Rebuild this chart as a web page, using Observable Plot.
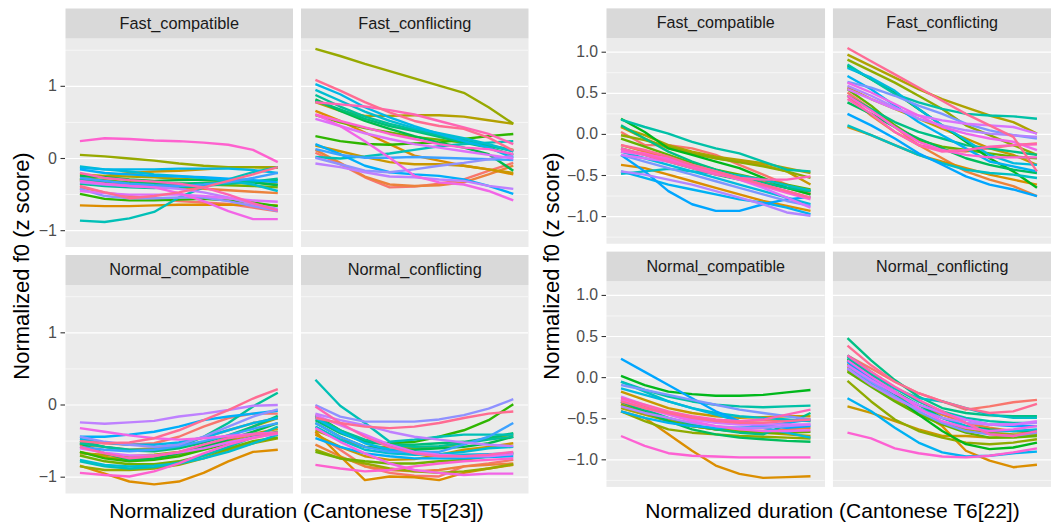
<!DOCTYPE html>
<html>
<head>
<meta charset="utf-8">
<script src="https://cdn.jsdelivr.net/npm/d3@7"></script>
<script src="https://cdn.jsdelivr.net/npm/@observablehq/plot@0.6"></script>
<style>
  html, body { margin: 0; padding: 0; background: #ffffff; }
  #wrap { position: relative; width: 1051px; height: 526px; overflow: hidden; background: #ffffff;
          font-family: "Liberation Sans", Arial, Helvetica, sans-serif; }
  .chart { position: absolute; top: 0; }
  .xtitle { position: absolute; font-size: 21px; line-height: 24px; text-align: center; color: #000; white-space: nowrap; }
  .ytitle { position: absolute; width: 300px; height: 24px; font-size: 22px; line-height: 24px; text-align: center;
            color: #000; white-space: nowrap; transform: rotate(-90deg); transform-origin: 50% 50%; }
</style>
</head>
<body>
<div id="wrap">
  <div id="left" class="chart" style="left:0px"></div>
  <div id="right" class="chart" style="left:530px"></div>
  <div class="xtitle" style="left:65px; top:499px; width:463px;">Normalized duration (Cantonese T5[23])</div>
  <div class="xtitle" style="left:607px; top:499px; width:451px;">Normalized duration (Cantonese T6[22])</div>
  <div class="ytitle" style="left:-128.5px; top:254px;">Normalized f0 (z score)</div>
  <div class="ytitle" style="left:401.5px; top:254px;">Normalized f0 (z score)</div>
</div>
<script>
// ---------- data ----------
const timePoints = [1, 2, 3, 4, 5, 6, 7, 8, 9];
const speeds = ["Fast", "Normal"];
const conditions = ["compatible", "conflicting"];

const t5TickValues = [-1, 0, 1];
const t5MinorValues = [-0.5, 0.5, 1.5];
const t6TickValues = [-1, -0.5, 0, 0.5, 1];
const t6MinorValues = [-1.25, -0.75, -0.25, 0.25, 0.75];

// Cantonese T5 (23 speakers), one row of f0 per speaker
const t5_Fast_compatible = [
  [-0.40,-0.47,-0.52,-0.56,-0.59,-0.61,-0.63,-0.68,-0.73],
  [-0.30,-0.33,-0.36,-0.38,-0.40,-0.42,-0.44,-0.46,-0.48],
  [-0.65,-0.66,-0.66,-0.65,-0.64,-0.64,-0.64,-0.64,-0.65],
  [-0.30,-0.24,-0.20,-0.18,-0.17,-0.15,-0.13,-0.12,-0.12],
  [-0.22,-0.24,-0.25,-0.26,-0.28,-0.30,-0.32,-0.33,-0.36],
  [0.05,0.03,0.00,-0.03,-0.07,-0.10,-0.12,-0.12,-0.13],
  [-0.27,-0.30,-0.33,-0.34,-0.35,-0.36,-0.37,-0.38,-0.40],
  [-0.49,-0.56,-0.58,-0.58,-0.57,-0.56,-0.58,-0.61,-0.66],
  [-0.24,-0.26,-0.29,-0.31,-0.30,-0.29,-0.30,-0.33,-0.37],
  [-0.30,-0.32,-0.34,-0.35,-0.35,-0.34,-0.33,-0.32,-0.30],
  [-0.35,-0.38,-0.40,-0.41,-0.40,-0.38,-0.35,-0.32,-0.28],
  [-0.86,-0.88,-0.83,-0.74,-0.54,-0.40,-0.29,-0.19,-0.12],
  [-0.11,-0.15,-0.18,-0.22,-0.24,-0.27,-0.31,-0.36,-0.45],
  [-0.13,-0.15,-0.15,-0.15,-0.14,-0.14,-0.14,-0.16,-0.20],
  [-0.15,-0.20,-0.22,-0.24,-0.25,-0.26,-0.28,-0.30,-0.33],
  [-0.27,-0.31,-0.35,-0.37,-0.38,-0.36,-0.33,-0.27,-0.20],
  [-0.42,-0.52,-0.55,-0.55,-0.54,-0.54,-0.59,-0.66,-0.73],
  [-0.33,-0.36,-0.38,-0.40,-0.42,-0.47,-0.54,-0.63,-0.70],
  [-0.45,-0.48,-0.50,-0.50,-0.50,-0.52,-0.55,-0.58,-0.60],
  [-0.31,-0.35,-0.38,-0.40,-0.48,-0.59,-0.73,-0.84,-0.84],
  [0.24,0.28,0.27,0.25,0.24,0.22,0.19,0.12,-0.05],
  [-0.20,-0.27,-0.30,-0.32,-0.35,-0.40,-0.50,-0.62,-0.72],
  [-0.38,-0.47,-0.55,-0.52,-0.47,-0.40,-0.31,-0.22,-0.12]
];
const t5_Fast_conflicting = [
  [0.08,-0.08,-0.26,-0.40,-0.39,-0.35,-0.29,-0.17,-0.06],
  [0.12,-0.06,-0.25,-0.36,-0.38,-0.37,-0.33,-0.22,-0.10],
  [0.66,0.52,0.36,0.20,0.04,-0.03,-0.10,-0.15,-0.22],
  [0.18,0.10,0.02,-0.05,-0.08,-0.08,-0.10,-0.15,-0.20],
  [0.78,0.66,0.59,0.59,0.60,0.60,0.58,0.53,0.48],
  [1.52,1.42,1.31,1.21,1.11,1.01,0.91,0.71,0.48],
  [0.60,0.50,0.42,0.36,0.30,0.26,0.22,0.18,0.12],
  [0.31,0.24,0.20,0.19,0.21,0.22,0.27,0.31,0.34],
  [0.82,0.66,0.52,0.41,0.31,0.22,0.15,0.06,-0.17],
  [0.80,0.68,0.55,0.45,0.38,0.30,0.22,0.15,0.05],
  [0.88,0.72,0.58,0.48,0.40,0.32,0.25,0.18,0.10],
  [0.02,0.00,0.03,0.07,0.12,0.17,0.20,0.22,0.24],
  [0.95,0.80,0.65,0.52,0.42,0.35,0.28,0.20,0.10],
  [1.03,0.89,0.71,0.57,0.45,0.34,0.24,0.15,0.01],
  [0.20,0.06,-0.10,-0.19,-0.22,-0.24,-0.29,-0.38,-0.49],
  [0.13,0.05,0.01,0.01,0.02,0.01,0.00,-0.01,-0.02],
  [0.01,-0.08,-0.17,-0.19,-0.15,-0.10,-0.06,-0.01,0.04],
  [-0.07,-0.12,-0.19,-0.25,-0.26,-0.29,-0.31,-0.38,-0.42],
  [0.55,0.45,0.35,0.27,0.20,0.15,0.10,0.05,0.00],
  [0.61,0.45,0.24,0.01,-0.24,-0.33,-0.36,-0.45,-0.58],
  [0.61,0.52,0.43,0.34,0.27,0.20,0.15,0.13,0.06],
  [0.78,0.75,0.72,0.67,0.61,0.52,0.43,0.34,0.20],
  [1.09,0.94,0.78,0.64,0.52,0.45,0.41,0.29,0.11]
];
const t5_Normal_compatible = [
  [-0.50,-0.53,-0.55,-0.53,-0.44,-0.30,-0.18,-0.12,-0.12],
  [-0.55,-0.58,-0.62,-0.60,-0.55,-0.45,-0.35,-0.25,-0.18],
  [-0.84,-0.95,-1.06,-1.10,-1.06,-0.94,-0.78,-0.65,-0.62],
  [-0.65,-0.72,-0.76,-0.74,-0.68,-0.60,-0.50,-0.40,-0.33],
  [-0.67,-0.69,-0.71,-0.69,-0.65,-0.58,-0.44,-0.30,-0.18],
  [-0.85,-0.90,-0.90,-0.88,-0.83,-0.74,-0.62,-0.53,-0.46],
  [-0.70,-0.78,-0.82,-0.82,-0.78,-0.70,-0.60,-0.50,-0.45],
  [-0.65,-0.74,-0.78,-0.76,-0.71,-0.62,-0.53,-0.44,-0.37],
  [-0.53,-0.67,-0.76,-0.74,-0.67,-0.58,-0.48,-0.37,-0.25],
  [-0.50,-0.58,-0.63,-0.64,-0.60,-0.52,-0.42,-0.30,-0.15],
  [-0.53,-0.58,-0.62,-0.62,-0.58,-0.44,-0.25,-0.02,0.17],
  [-0.78,-0.85,-0.88,-0.86,-0.80,-0.70,-0.58,-0.45,-0.30],
  [-0.76,-0.83,-0.85,-0.84,-0.81,-0.74,-0.65,-0.53,-0.41],
  [-0.47,-0.52,-0.55,-0.55,-0.52,-0.45,-0.35,-0.25,-0.18],
  [-0.44,-0.44,-0.41,-0.37,-0.30,-0.21,-0.16,-0.12,-0.08],
  [-0.58,-0.62,-0.64,-0.62,-0.57,-0.50,-0.42,-0.33,-0.25],
  [-0.44,-0.51,-0.55,-0.58,-0.55,-0.44,-0.30,-0.16,-0.06],
  [-0.24,-0.26,-0.24,-0.22,-0.16,-0.12,-0.07,-0.01,0.00],
  [-0.60,-0.66,-0.70,-0.70,-0.66,-0.60,-0.52,-0.45,-0.40],
  [-0.32,-0.37,-0.42,-0.46,-0.48,-0.46,-0.43,-0.40,-0.38],
  [-0.94,-0.97,-0.99,-0.92,-0.81,-0.67,-0.55,-0.46,-0.39],
  [-0.58,-0.67,-0.74,-0.71,-0.65,-0.55,-0.46,-0.41,-0.39],
  [-0.50,-0.53,-0.52,-0.46,-0.35,-0.21,-0.07,0.09,0.22]
];
const t5_Normal_conflicting = [
  [-0.39,-0.62,-0.85,-0.94,-0.98,-0.99,-0.85,-0.81,-0.76],
  [-0.55,-0.71,-0.85,-0.90,-0.92,-0.90,-0.85,-0.83,-0.81],
  [-0.37,-0.71,-1.04,-0.99,-1.00,-1.04,-0.94,-0.88,-0.83],
  [-0.41,-0.58,-0.71,-0.76,-0.75,-0.69,-0.62,-0.58,-0.53],
  [-0.35,-0.48,-0.58,-0.58,-0.60,-0.58,-0.53,-0.46,-0.41],
  [-0.62,-0.74,-0.81,-0.88,-0.92,-0.94,-0.92,-0.88,-0.82],
  [-0.65,-0.74,-0.78,-0.81,-0.81,-0.78,-0.76,-0.71,-0.67],
  [-0.14,-0.35,-0.51,-0.53,-0.51,-0.44,-0.35,-0.21,0.01],
  [-0.25,-0.44,-0.58,-0.62,-0.62,-0.60,-0.58,-0.53,-0.44],
  [-0.21,-0.39,-0.51,-0.55,-0.55,-0.53,-0.51,-0.46,-0.39],
  [-0.16,-0.35,-0.48,-0.55,-0.58,-0.57,-0.53,-0.48,-0.44],
  [0.35,-0.01,-0.25,-0.51,-0.48,-0.44,-0.41,-0.41,-0.41],
  [-0.30,-0.48,-0.62,-0.67,-0.69,-0.68,-0.65,-0.60,-0.58],
  [-0.18,-0.37,-0.53,-0.62,-0.67,-0.69,-0.69,-0.68,-0.67],
  [-0.46,-0.58,-0.67,-0.71,-0.74,-0.74,-0.74,-0.72,-0.71],
  [-0.25,-0.44,-0.58,-0.65,-0.65,-0.65,-0.55,-0.44,-0.25],
  [0.00,-0.16,-0.23,-0.23,-0.23,-0.20,-0.14,-0.05,0.08],
  [-0.12,-0.21,-0.28,-0.37,-0.44,-0.48,-0.52,-0.55,-0.57],
  [-0.14,-0.28,-0.41,-0.55,-0.65,-0.69,-0.71,-0.71,-0.68],
  [-0.32,-0.51,-0.67,-0.81,-0.90,-0.94,-0.97,-0.95,-0.95],
  [-0.83,-0.88,-0.92,-0.90,-0.85,-0.81,-0.78,-0.76,-0.74],
  [-0.02,-0.25,-0.44,-0.58,-0.67,-0.71,-0.71,-0.69,-0.65],
  [-0.18,-0.25,-0.30,-0.32,-0.30,-0.25,-0.18,-0.12,-0.09]
];

// Cantonese T6 (22 speakers)
const t6_Fast_compatible = [
  [0.03,-0.13,-0.13,-0.17,-0.25,-0.37,-0.49,-0.61,-0.71],
  [-0.13,-0.21,-0.29,-0.37,-0.45,-0.51,-0.57,-0.65,-0.73],
  [-0.37,-0.41,-0.49,-0.57,-0.65,-0.73,-0.81,-0.87,-0.93],
  [0.09,-0.05,-0.17,-0.23,-0.29,-0.33,-0.37,-0.45,-0.61],
  [0.09,-0.01,-0.13,-0.21,-0.27,-0.31,-0.35,-0.41,-0.47],
  [-0.01,-0.07,-0.15,-0.23,-0.29,-0.34,-0.39,-0.45,-0.53],
  [-0.05,-0.15,-0.25,-0.35,-0.43,-0.49,-0.55,-0.61,-0.67],
  [0.19,0.03,-0.17,-0.25,-0.33,-0.41,-0.53,-0.65,-0.73],
  [-0.17,-0.25,-0.33,-0.41,-0.49,-0.55,-0.59,-0.65,-0.69],
  [0.11,-0.05,-0.21,-0.33,-0.43,-0.51,-0.59,-0.65,-0.69],
  [0.18,0.09,0.01,-0.09,-0.17,-0.23,-0.33,-0.43,-0.45],
  [-0.48,-0.45,-0.42,-0.45,-0.48,-0.50,-0.55,-0.62,-0.68],
  [-0.21,-0.29,-0.37,-0.45,-0.53,-0.61,-0.69,-0.77,-0.85],
  [-0.45,-0.53,-0.61,-0.67,-0.73,-0.79,-0.83,-0.89,-0.97],
  [-0.25,-0.45,-0.69,-0.85,-0.93,-0.93,-0.85,-0.79,-0.76],
  [-0.25,-0.33,-0.41,-0.49,-0.57,-0.65,-0.73,-0.81,-0.87],
  [-0.45,-0.49,-0.55,-0.61,-0.69,-0.77,-0.85,-0.95,-0.99],
  [-0.25,-0.29,-0.33,-0.39,-0.47,-0.55,-0.65,-0.77,-0.89],
  [-0.21,-0.25,-0.29,-0.37,-0.45,-0.53,-0.61,-0.69,-0.77],
  [-0.19,-0.23,-0.31,-0.39,-0.47,-0.55,-0.63,-0.71,-0.79],
  [-0.17,-0.25,-0.33,-0.41,-0.49,-0.53,-0.55,-0.55,-0.51],
  [-0.13,-0.19,-0.27,-0.37,-0.45,-0.53,-0.61,-0.69,-0.77]
];
const t6_Fast_conflicting = [
  [0.51,0.31,0.09,-0.13,-0.19,-0.21,-0.17,-0.13,-0.11],
  [0.47,0.23,0.03,-0.13,-0.29,-0.45,-0.55,-0.63,-0.75],
  [0.09,-0.01,-0.13,-0.25,-0.33,-0.41,-0.49,-0.55,-0.61],
  [0.57,0.43,0.31,0.19,0.07,-0.05,-0.17,-0.25,-0.37],
  [0.97,0.83,0.69,0.55,0.43,0.33,0.23,0.15,0.01],
  [0.91,0.77,0.63,0.47,0.31,0.11,-0.01,-0.13,-0.25],
  [0.55,0.35,0.11,-0.07,-0.15,-0.19,-0.23,-0.27,-0.29],
  [0.83,0.67,0.51,0.31,0.11,-0.09,-0.29,-0.45,-0.65],
  [0.39,0.25,0.09,-0.05,-0.17,-0.29,-0.37,-0.43,-0.47],
  [0.47,0.31,0.15,0.03,-0.05,-0.13,-0.17,-0.21,-0.25],
  [0.85,0.67,0.49,0.39,0.31,0.25,0.23,0.22,0.19],
  [0.11,-0.01,-0.13,-0.25,-0.35,-0.43,-0.47,-0.49,-0.53],
  [0.81,0.69,0.53,0.31,0.11,-0.07,-0.25,-0.35,-0.37],
  [0.71,0.55,0.35,0.15,-0.01,-0.17,-0.33,-0.39,-0.45],
  [0.25,0.11,-0.05,-0.23,-0.37,-0.51,-0.61,-0.67,-0.75],
  [0.64,0.57,0.47,0.35,0.25,0.13,0.05,-0.01,-0.05],
  [0.59,0.47,0.33,0.19,0.11,0.05,0.01,-0.01,-0.03],
  [0.55,0.43,0.31,0.23,0.17,0.13,0.11,0.09,0.01],
  [0.63,0.51,0.37,0.23,0.09,0.01,-0.05,-0.09,-0.19],
  [0.47,0.29,0.09,-0.09,-0.19,-0.25,-0.28,-0.28,-0.28],
  [0.43,0.25,0.03,-0.13,-0.21,-0.19,-0.15,-0.13,-0.12],
  [1.05,0.89,0.73,0.57,0.41,0.25,0.11,-0.03,-0.45]
];
const t6_Normal_compatible = [
  [-0.27,-0.35,-0.43,-0.49,-0.52,-0.53,-0.52,-0.52,-0.53],
  [-0.31,-0.41,-0.51,-0.59,-0.63,-0.65,-0.65,-0.63,-0.61],
  [-0.41,-0.49,-0.69,-0.89,-1.07,-1.17,-1.22,-1.21,-1.20],
  [-0.17,-0.27,-0.37,-0.43,-0.47,-0.49,-0.48,-0.47,-0.47],
  [-0.37,-0.45,-0.53,-0.59,-0.63,-0.65,-0.67,-0.69,-0.71],
  [-0.41,-0.53,-0.63,-0.67,-0.69,-0.71,-0.72,-0.73,-0.74],
  [-0.33,-0.43,-0.53,-0.59,-0.63,-0.66,-0.67,-0.67,-0.66],
  [0.02,-0.09,-0.17,-0.20,-0.22,-0.22,-0.21,-0.18,-0.15],
  [-0.29,-0.41,-0.53,-0.63,-0.69,-0.73,-0.75,-0.77,-0.78],
  [-0.29,-0.39,-0.49,-0.57,-0.63,-0.67,-0.69,-0.57,-0.43],
  [-0.05,-0.15,-0.23,-0.29,-0.33,-0.35,-0.36,-0.35,-0.34],
  [-0.05,-0.17,-0.29,-0.37,-0.43,-0.47,-0.49,-0.51,-0.53],
  [-0.13,-0.21,-0.29,-0.37,-0.45,-0.53,-0.61,-0.67,-0.73],
  [-0.41,-0.49,-0.55,-0.59,-0.61,-0.61,-0.59,-0.55,-0.51],
  [0.23,0.07,-0.09,-0.25,-0.41,-0.53,-0.59,-0.61,-0.59],
  [-0.09,-0.15,-0.21,-0.27,-0.33,-0.39,-0.43,-0.47,-0.51],
  [-0.35,-0.43,-0.49,-0.55,-0.59,-0.61,-0.61,-0.59,-0.57],
  [-0.23,-0.33,-0.43,-0.51,-0.55,-0.57,-0.57,-0.57,-0.57],
  [-0.27,-0.37,-0.45,-0.53,-0.59,-0.63,-0.65,-0.65,-0.64],
  [-0.71,-0.83,-0.92,-0.95,-0.96,-0.97,-0.97,-0.97,-0.97],
  [-0.25,-0.33,-0.41,-0.47,-0.51,-0.53,-0.51,-0.45,-0.39],
  [-0.29,-0.37,-0.43,-0.49,-0.53,-0.55,-0.55,-0.53,-0.51]
];
const t6_Normal_conflicting = [
  [0.27,0.11,-0.05,-0.19,-0.29,-0.39,-0.35,-0.30,-0.27],
  [0.13,-0.03,-0.19,-0.33,-0.45,-0.55,-0.61,-0.65,-0.67],
  [0.17,-0.01,-0.19,-0.41,-0.59,-0.89,-1.01,-1.09,-1.06],
  [-0.35,-0.43,-0.53,-0.63,-0.71,-0.71,-0.73,-0.72,-0.69],
  [0.09,-0.09,-0.27,-0.43,-0.55,-0.63,-0.67,-0.69,-0.69],
  [-0.04,-0.29,-0.51,-0.65,-0.73,-0.79,-0.81,-0.79,-0.75],
  [0.07,-0.11,-0.29,-0.45,-0.57,-0.67,-0.73,-0.73,-0.71],
  [0.21,-0.01,-0.21,-0.45,-0.65,-0.81,-0.87,-0.85,-0.79],
  [0.23,0.03,-0.17,-0.33,-0.49,-0.59,-0.63,-0.65,-0.65],
  [0.48,0.21,-0.03,-0.23,-0.37,-0.43,-0.46,-0.47,-0.47],
  [0.25,0.05,-0.13,-0.29,-0.41,-0.49,-0.53,-0.55,-0.55],
  [0.27,0.07,-0.13,-0.25,-0.29,-0.37,-0.45,-0.49,-0.49],
  [0.11,-0.07,-0.23,-0.37,-0.49,-0.59,-0.65,-0.65,-0.63],
  [-0.25,-0.41,-0.61,-0.79,-0.91,-0.96,-0.95,-0.92,-0.90],
  [0.19,-0.01,-0.19,-0.33,-0.43,-0.51,-0.57,-0.59,-0.59],
  [0.15,-0.05,-0.23,-0.41,-0.55,-0.65,-0.69,-0.71,-0.67],
  [0.11,-0.09,-0.25,-0.39,-0.49,-0.55,-0.57,-0.57,-0.55],
  [0.15,-0.03,-0.19,-0.33,-0.43,-0.51,-0.57,-0.57,-0.53],
  [0.21,0.01,-0.17,-0.37,-0.53,-0.61,-0.65,-0.63,-0.59],
  [-0.67,-0.74,-0.86,-0.92,-0.96,-0.97,-0.95,-0.91,-0.86],
  [0.27,0.07,-0.11,-0.27,-0.41,-0.55,-0.69,-0.71,-0.65],
  [0.39,0.15,-0.05,-0.19,-0.29,-0.37,-0.43,-0.41,-0.32]
];

// ---------- ggplot2 default hue palette (polar LUV) ----------
function hclLuv(h, c, l) {
  const Xn = 95.047, Yn = 100, Zn = 108.883;
  const hr = h * Math.PI / 180;
  const U = c * Math.cos(hr), V = c * Math.sin(hr);
  const Y = Yn * (l > 8 ? Math.pow((l + 16) / 116, 3) : l / 903.3);
  const t = Xn + 15 * Yn + 3 * Zn;
  const un = 4 * Xn / t, vn = 9 * Yn / t;
  const u = U / (13 * l) + un, v = V / (13 * l) + vn;
  const X = 9 * Y * u / (4 * v);
  const Z = -X / 3 - 5 * Y + 3 * Y / v;
  const x = X / 100, y = Y / 100, z = Z / 100;
  const r = 3.240479 * x - 1.53715 * y - 0.498535 * z;
  const g = -0.969256 * x + 1.875992 * y + 0.041556 * z;
  const b = 0.055648 * x - 0.204043 * y + 1.057311 * z;
  const gam = q => { q = q <= 0.0031308 ? 12.92 * q : 1.055 * Math.pow(q, 1 / 2.4) - 0.055; return Math.max(0, Math.min(1, q)) * 255; };
  return d3.rgb(gam(r), gam(g), gam(b)).formatHex();
}
function huePal(n) {
  const out = [];
  for (let i = 0; i < n; i++) out.push(hclLuv(15 + i * 360 / n, 100, 65));
  return out;
}

function buildRows(tables, palette) {
  const rows = [];
  for (const speed of speeds) for (const compat of conditions) {
    const tbl = tables[speed + "_" + compat];
    tbl.forEach((series, s) => {
      series.forEach((val, k) => rows.push({speed, compat, speaker: s, t: timePoints[k], f0: val, colour: palette[s]}));
    });
  }
  return rows;
}
const strips = [];
for (const speed of speeds) for (const compat of conditions) strips.push({speed, compat, label: speed + "_" + compat});

const fontFamily = '"Liberation Sans", Arial, Helvetica, sans-serif';

function facetChart({rows, width, marginLeft, marginRight, xDomain, yDomain, ticks, minor, tickFormat, fxPad}) {
  const cellH = 238.5, stripH = 30;
  return Plot.plot({
    width, height: 500,
    marginTop: 8, marginBottom: 7, marginLeft, marginRight,
    style: {fontFamily, background: "transparent", overflow: "visible"},
    x: {domain: xDomain, axis: null},
    y: {domain: yDomain, axis: null},
    color: {type: "identity"},
    fx: {domain: conditions, paddingInner: fxPad, paddingOuter: 0, axis: null, round: false},
    fy: {domain: speeds, paddingInner: 8 / 246.5, paddingOuter: 0, axis: null, round: false},
    marks: [
      Plot.frame({fill: "#EBEBEB", stroke: "none", insetTop: stripH}),
      Plot.frame({fill: "#D9D9D9", stroke: "none", insetBottom: cellH - stripH}),
      Plot.ruleY(minor, {stroke: "#FFFFFF", strokeWidth: 0.6}),
      Plot.ruleY(ticks, {stroke: "#FFFFFF", strokeWidth: 1.2}),
      Plot.line(rows, {x: "t", y: "f0", z: "speaker", stroke: "colour", fx: "compat", fy: "speed",
                       strokeWidth: 2.4, strokeLinejoin: "round", strokeLinecap: "butt"}),
      Plot.text(strips, {fx: "compat", fy: "speed", text: "label", frameAnchor: "top", dy: 15,
                         lineAnchor: "middle", fontSize: 16.3, fill: "#1A1A1A"}),
      Plot.axisY(ticks, {anchor: "left", tickSize: 4.5, tickPadding: 4, fontSize: 16,
                         fill: "#4D4D4D", stroke: "#333333", strokeWidth: 1.1, label: null, tickFormat})
    ]
  });
}

const t5Rows = buildRows({
  Fast_compatible: t5_Fast_compatible, Fast_conflicting: t5_Fast_conflicting,
  Normal_compatible: t5_Normal_compatible, Normal_conflicting: t5_Normal_conflicting
}, huePal(23));
const t6Rows = buildRows({
  Fast_compatible: t6_Fast_compatible, Fast_conflicting: t6_Fast_conflicting,
  Normal_compatible: t6_Normal_compatible, Normal_conflicting: t6_Normal_conflicting
}, huePal(22));

document.getElementById("left").appendChild(facetChart({
  rows: t5Rows, width: 530, marginLeft: 65, marginRight: 2,
  xDomain: [0.417, 9.615], yDomain: [-1.226, 2.078],
  ticks: t5TickValues, minor: t5MinorValues, tickFormat: d3.format("d"),
  fxPad: 8 / 235.5
}));
document.getElementById("right").appendChild(facetChart({
  rows: t6Rows, width: 528, marginLeft: 77, marginRight: 0,
  xDomain: [0.386, 9.614], yDomain: [-1.33, 1.533],
  ticks: t6TickValues, minor: t6MinorValues, tickFormat: d3.format(".1f"),
  fxPad: 8 / 229.5
}));
</script>
</body>
</html>
